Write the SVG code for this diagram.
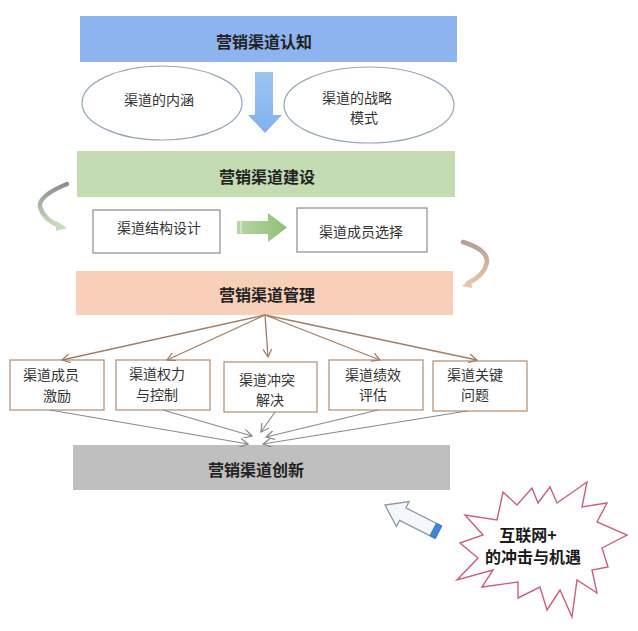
<svg xmlns="http://www.w3.org/2000/svg" width="638" height="631" viewBox="0 0 638 631">
<defs>
<style>
.title{font-family:"Noto Sans CJK SC","Liberation Sans",sans-serif;font-size:16px;font-weight:bold;fill:#222;text-anchor:middle}
.lbl{font-family:"Noto Sans CJK SC","Liberation Sans",sans-serif;font-size:14px;fill:#333;text-anchor:middle}
.star{font-family:"Noto Sans CJK SC","Liberation Sans",sans-serif;font-size:16px;font-weight:bold;fill:#1a1a1a;text-anchor:middle}
.mbox{fill:#fff;stroke:#b8957a;stroke-width:1.3}
.cbox{fill:#fff;stroke:#8c8c8c;stroke-width:1.2}
.ell{fill:#fff;stroke:#97a6bd;stroke-width:1.2}
.fan{stroke:#a37d64;stroke-width:1.3;fill:none;marker-end:url(#mb)}
.conv{stroke:#8a8a8a;stroke-width:1.2;fill:none;marker-end:url(#mg)}
</style>
<marker id="mb" viewBox="0 0 10 10" refX="9" refY="5" markerWidth="9" markerHeight="9" orient="auto" markerUnits="userSpaceOnUse">
<path d="M0 0 L9 5 L0 10" fill="none" stroke="#a37d64" stroke-width="1.4"/>
</marker>
<marker id="mg" viewBox="0 0 10 10" refX="9" refY="5" markerWidth="9" markerHeight="9" orient="auto" markerUnits="userSpaceOnUse">
<path d="M0 0 L9 5 L0 10" fill="none" stroke="#8a8a8a" stroke-width="1.4"/>
</marker>
<linearGradient id="gDown" x1="0" y1="0" x2="0" y2="1">
<stop offset="0" stop-color="#9cc4f2"/><stop offset="1" stop-color="#7fb2ec"/>
</linearGradient>
<linearGradient id="gRight" x1="0" y1="0" x2="1" y2="0">
<stop offset="0" stop-color="#b7d6a6"/><stop offset="1" stop-color="#8fc075"/>
</linearGradient>
<linearGradient id="gLeftCurve" x1="0" y1="0" x2="0" y2="1">
<stop offset="0" stop-color="#8d8f8c"/><stop offset="1" stop-color="#c9dcbd"/>
</linearGradient>
<linearGradient id="gRightCurve" x1="0" y1="0" x2="0" y2="1">
<stop offset="0" stop-color="#b89c9a"/><stop offset="1" stop-color="#e6c4a4"/>
</linearGradient>
</defs>
<rect width="638" height="631" fill="#fff"/>

<g id="node-cognition">
<rect x="80" y="16" width="377" height="46" fill="#8db4ef"/>
<text class="title" x="264" y="48">营销渠道认知</text>
</g>
<g id="node-connotation">
<ellipse class="ell" cx="162" cy="103" rx="80" ry="37"/>
<text class="lbl" x="159" y="105">渠道的内涵</text>
</g>
<g id="node-strategy">
<ellipse class="ell" cx="369" cy="105" rx="85" ry="38"/>
<text class="lbl" x="357" y="103">渠道的战略</text>
<text class="lbl" x="364" y="123">模式</text>
</g>

<g id="node-construction">
<rect x="77" y="151" width="378" height="46" fill="#c3dcb1"/>
<text class="title" x="267" y="183">营销渠道建设</text>
</g>
<g id="node-structure">
<rect class="cbox" x="93" y="210" width="127" height="43"/>
<text class="lbl" x="159" y="233">渠道结构设计</text>
</g>
<g id="node-member-select">
<rect class="cbox" x="297" y="208" width="130" height="44"/>
<text class="lbl" x="361" y="237">渠道成员选择</text>
</g>

<g id="node-management">
<rect x="76" y="271" width="377" height="44" fill="#f8cfb8"/>
<text class="title" x="267" y="301">营销渠道管理</text>
</g>
<g id="node-incentive">
<rect class="mbox" x="10" y="360" width="94" height="50"/>
<text class="lbl" x="51" y="380">渠道成员</text>
<text class="lbl" x="57" y="401">激励</text>
</g>
<g id="node-power">
<rect class="mbox" x="116" y="360" width="94" height="50"/>
<text class="lbl" x="157" y="379">渠道权力</text>
<text class="lbl" x="157" y="400">与控制</text>
</g>
<g id="node-conflict">
<rect class="mbox" x="224" y="362" width="93" height="50"/>
<text class="lbl" x="267" y="385">渠道冲突</text>
<text class="lbl" x="270" y="405">解决</text>
</g>
<g id="node-performance">
<rect class="mbox" x="329" y="360" width="94" height="50"/>
<text class="lbl" x="373" y="380">渠道绩效</text>
<text class="lbl" x="373" y="400">评估</text>
</g>
<g id="node-key">
<rect class="mbox" x="433" y="361" width="94" height="50"/>
<text class="lbl" x="475" y="380">渠道关键</text>
<text class="lbl" x="475" y="400">问题</text>
</g>

<g id="node-innovation">
<rect x="73" y="445" width="377" height="45" fill="#bfbfbf"/>
<text class="title" x="256" y="476">营销渠道创新</text>
</g>

<g id="node-internet">
<polygon points="503,492 517,505 532,488 538,503 550,487 557,503 587,482 582,507 607,503 597,522 627,535 602,548 608,567 592,570 597,593 577,580 572,617 560,590 547,610 540,587 518,598 518,582 482,587 493,570 457,580 478,558 460,543 483,535 465,515 497,520" fill="#fff" stroke="#cf5f78" stroke-width="1.4" stroke-linejoin="miter"/>
<text class="star" x="528" y="541">互联网+</text>
<text class="star" x="533" y="563">的冲击与机遇</text>
</g>

<g id="connectors">
<polygon points="255,72 273,72 273,115 282,115 265,133 248,115 255,115" fill="url(#gDown)"/>
<polygon points="237,221 268,221 268,213 287,227.5 268,242 268,234 237,234" fill="url(#gRight)"/>
<line x1="241" y1="221" x2="241" y2="234" stroke="#e4f0dc" stroke-width="1.2"/>
<path d="M67,184 Q38,196 40,207 Q44,220 60,226" fill="none" stroke="url(#gLeftCurve)" stroke-width="4.5" stroke-linecap="round"/>
<polygon points="56,221 67,228 56,231" fill="#c9dcbd"/>
<path d="M463,242 Q488,250 487,262 Q484,276 468,283" fill="none" stroke="url(#gRightCurve)" stroke-width="4.5" stroke-linecap="round"/>
<polygon points="471,279 462,286 472,288" fill="#e6c4a4"/>

<line class="fan" x1="265" y1="315" x2="62" y2="360"/>
<line class="fan" x1="265" y1="315" x2="167" y2="360"/>
<line class="fan" x1="265" y1="315" x2="268" y2="357"/>
<line class="fan" x1="265" y1="315" x2="380" y2="360"/>
<line class="fan" x1="265" y1="315" x2="477" y2="360"/>

<line class="conv" x1="50" y1="410" x2="248" y2="444"/>
<line class="conv" x1="163" y1="410" x2="252" y2="436"/>
<line class="conv" x1="275" y1="412" x2="261" y2="432"/>
<line class="conv" x1="378" y1="410" x2="266" y2="437"/>
<line class="conv" x1="467" y1="411" x2="263" y2="444"/>

<polygon points="385,505 409,501.6 406,507.9 441.6,526 435.2,538.4 399.6,520.3 396.4,526.6" fill="#f4f8fc" stroke="#8b99a6" stroke-width="1.3" stroke-linejoin="miter"/>
<polygon points="436.3,523.3 441.6,526 435.2,538.4 429.9,535.7" fill="#3f86d6" stroke="#2f6fc0" stroke-width="0.8"/>
</g>
</svg>
